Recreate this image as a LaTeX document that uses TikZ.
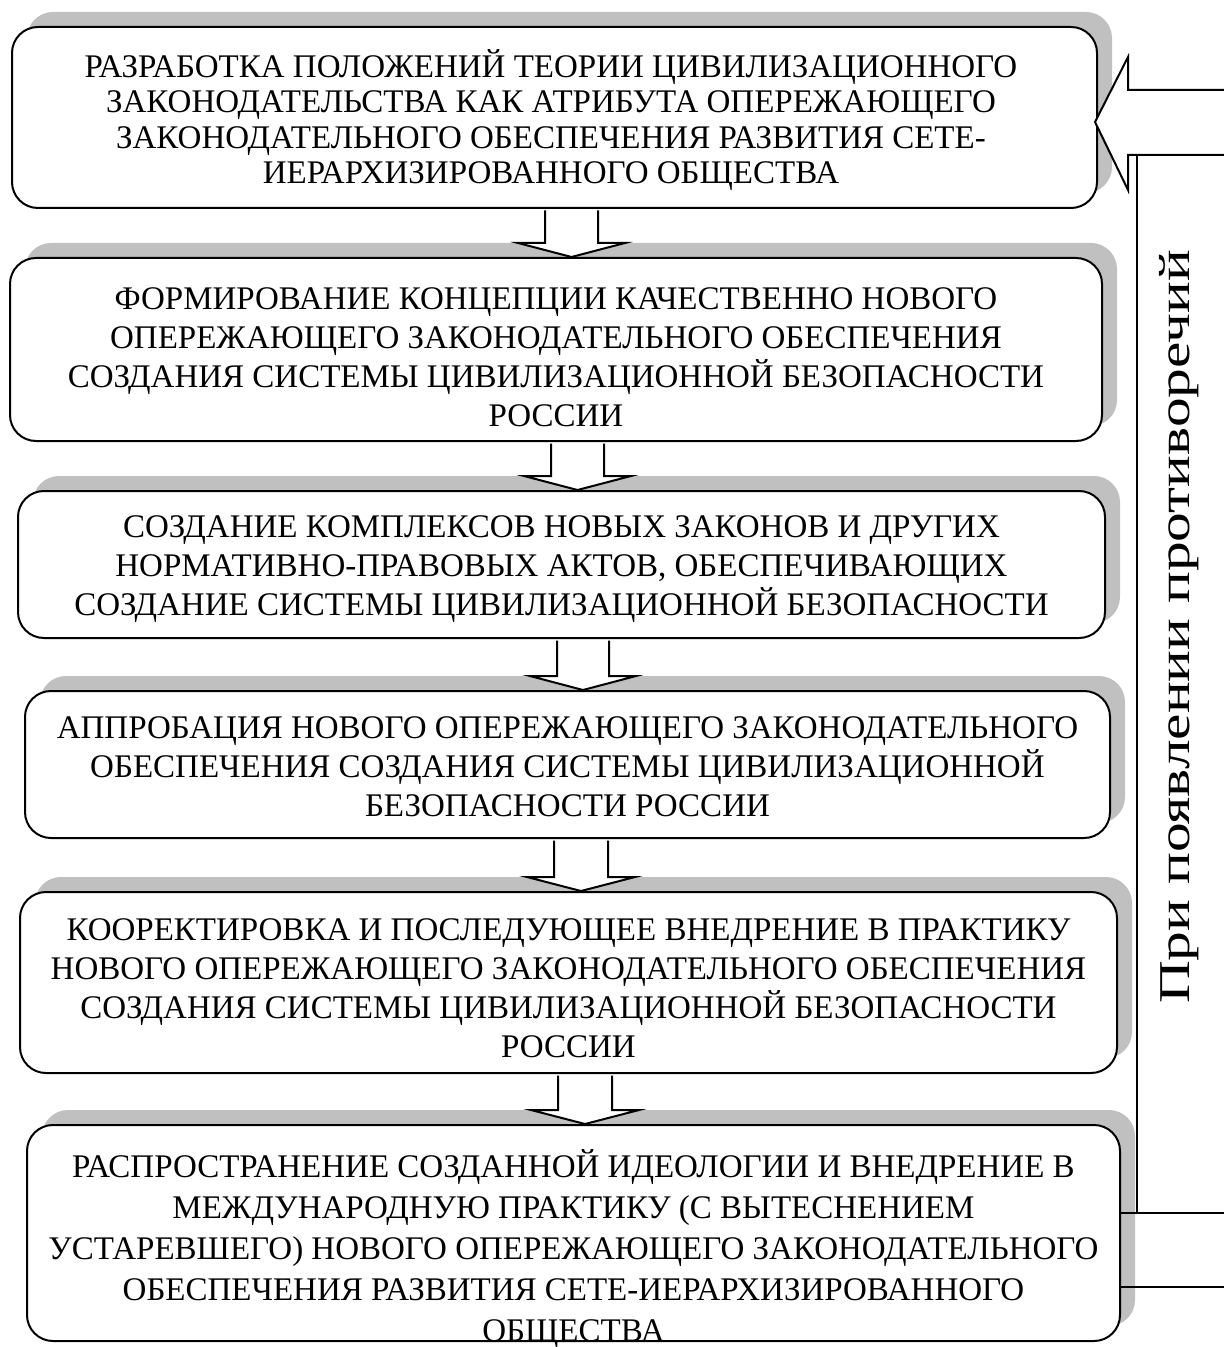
\documentclass[tikz,border=0pt]{standalone}
\usepackage{fontspec}
\usepackage{graphicx}
\setmainfont{Liberation Serif}
\usetikzlibrary{shadows,calc}
\definecolor{shadowgray}{RGB}{192,192,192}
\newcommand\blockarrow[4]{%
  \coordinate (ba-l) at (#3,0);
  \coordinate (ba-r) at (#4,0);
  \coordinate (ba-wl) at ({#3-27},0);
  \coordinate (ba-wr) at ({#4+27},0);
  \coordinate (ba-c) at ({(#3+#4)/2},0);
  \draw[blk] ($(#1.south -| ba-l)+(0,1.5)$) -- ($(#2.north -| ba-l)+(0,-14)$) -- ($(#2.north -| ba-wl)+(0,-14)$) -- (#2.north -| ba-c) -- ($(#2.north -| ba-wr)+(0,-14)$) -- ($(#2.north -| ba-r)+(0,-14)$) -- ($(#1.south -| ba-r)+(0,1.5)$);
}
\begin{document}
\begin{tikzpicture}[x=0.5pt,y=-0.5pt,
  box/.style={draw, line width=1pt, rounded corners=13pt, fill=white, inner sep=0pt,
    general shadow={fill=shadowgray, shadow xshift=7.5pt, shadow yshift=7.5pt}},
  txt/.style={align=center, font=\fontsize{16.5}{19.5}\selectfont, inner sep=0pt},
  blk/.style={draw, line width=1pt, fill=white, line join=miter},
  fbline/.style={draw, line width=1pt, line join=miter}
]
\useasboundingbox (0,0) rectangle (1224,1347);

% boxes
\node[box, minimum width=542.5pt, minimum height=90.5pt] (b1) at (554.5,117.5) {};
\node[box, minimum width=546pt, minimum height=91.5pt] (b2) at (556,349.5) {};
\node[box, minimum width=543.5pt, minimum height=73.5pt] (b3) at (561.5,564.5) {};
\node[box, minimum width=542.5pt, minimum height=73.5pt] (b4) at (567.5,764.5) {};
\node[box, minimum width=548.5pt, minimum height=90.5pt] (b5) at (568.5,982.5) {};
\node[box, minimum width=546.5pt, minimum height=108pt] (b6) at (573.5,1233) {};

% feedback arrow
\coordinate (yA) at (0,122);
\coordinate (yT1) at (0,90);
\coordinate (yT2) at (0,155);
\coordinate (yH1) at (0,57);
\coordinate (yH2) at (0,190);
\coordinate (yB1) at (0,1213);
\coordinate (yB2) at (0,1287);
\coordinate (xHead) at (1128,0);
\coordinate (xIn) at (1137,0);
\coordinate (xOut) at (1320,0);
\begin{scope}
  \clip (0,0) rectangle (1224,1347);
  \draw[fbline] (b6.east |- yB1) -- (xOut |- yB1);
  \draw[fbline] (b6.east |- yB2) -- (xOut |- yB2);
  \draw[fbline] (xIn |- yB1) -- (xIn |- yT2);
  \draw[fbline, fill=white] (xOut |- yT2) -- (xHead |- yT2) -- (xHead |- yH2)
     -- ($(b1.east |- yA)+(-3,0)$) -- (xHead |- yH1) -- (xHead |- yT1) -- (xOut |- yT1);
\end{scope}
\node[rotate=90, inner sep=0pt, font=\fontsize{22}{26}\selectfont] (fbl) at (1179,627) {\scalebox{1.35}[1]{При появлении противоречий}};

% block arrows
\blockarrow{b1}{b2}{545}{598}
\blockarrow{b2}{b3}{551}{604}
\blockarrow{b3}{b4}{557}{609}
\blockarrow{b4}{b5}{554}{608}
\blockarrow{b5}{b6}{558}{612}

% texts
\node[txt, font=\fontsize{16.5}{17.7}\selectfont] (t1) at (551,120) {РАЗРАБОТКА ПОЛОЖЕНИЙ ТЕОРИИ ЦИВИЛИЗАЦИОННОГО\\ЗАКОНОДАТЕЛЬСТВА КАК АТРИБУТА ОПЕРЕЖАЮЩЕГО\\ЗАКОНОДАТЕЛЬНОГО ОБЕСПЕЧЕНИЯ РАЗВИТИЯ СЕТЕ-\\ИЕРАРХИЗИРОВАННОГО ОБЩЕСТВА};
\node[txt] (t2) at (556,357) {ФОРМИРОВАНИЕ КОНЦЕПЦИИ КАЧЕСТВЕННО НОВОГО\\ОПЕРЕЖАЮЩЕГО ЗАКОНОДАТЕЛЬНОГО ОБЕСПЕЧЕНИЯ\\СОЗДАНИЯ СИСТЕМЫ ЦИВИЛИЗАЦИОННОЙ БЕЗОПАСНОСТИ\\РОССИИ};
\node[txt] (t3) at (561.5,569) {СОЗДАНИЕ КОМПЛЕКСОВ НОВЫХ ЗАКОНОВ И ДРУГИХ\\НОРМАТИВНО-ПРАВОВЫХ АКТОВ, ОБЕСПЕЧИВАЮЩИХ\\СОЗДАНИЕ СИСТЕМЫ ЦИВИЛИЗАЦИОННОЙ БЕЗОПАСНОСТИ};
\node[txt] (t4) at (567.5,767) {АППРОБАЦИЯ НОВОГО ОПЕРЕЖАЮЩЕГО ЗАКОНОДАТЕЛЬНОГО\\ОБЕСПЕЧЕНИЯ СОЗДАНИЯ СИСТЕМЫ ЦИВИЛИЗАЦИОННОЙ\\БЕЗОПАСНОСТИ РОССИИ};
\node[txt] (t5) at (568.5,988) {КООРЕКТИРОВКА И ПОСЛЕДУЮЩЕЕ ВНЕДРЕНИЕ В ПРАКТИКУ\\НОВОГО ОПЕРЕЖАЮЩЕГО ЗАКОНОДАТЕЛЬНОГО ОБЕСПЕЧЕНИЯ\\СОЗДАНИЯ СИСТЕМЫ ЦИВИЛИЗАЦИОННОЙ БЕЗОПАСНОСТИ\\РОССИИ};
\node[txt, font=\fontsize{16.5}{20.5}\selectfont] (t6) at (573.5,1249) {РАСПРОСТРАНЕНИЕ СОЗДАННОЙ ИДЕОЛОГИИ И ВНЕДРЕНИЕ В\\МЕЖДУНАРОДНУЮ ПРАКТИКУ (С ВЫТЕСНЕНИЕМ\\УСТАРЕВШЕГО) НОВОГО ОПЕРЕЖАЮЩЕГО ЗАКОНОДАТЕЛЬНОГО\\ОБЕСПЕЧЕНИЯ РАЗВИТИЯ СЕТЕ-ИЕРАРХИЗИРОВАННОГО\\ОБЩЕСТВА};
\end{tikzpicture}
\end{document}
